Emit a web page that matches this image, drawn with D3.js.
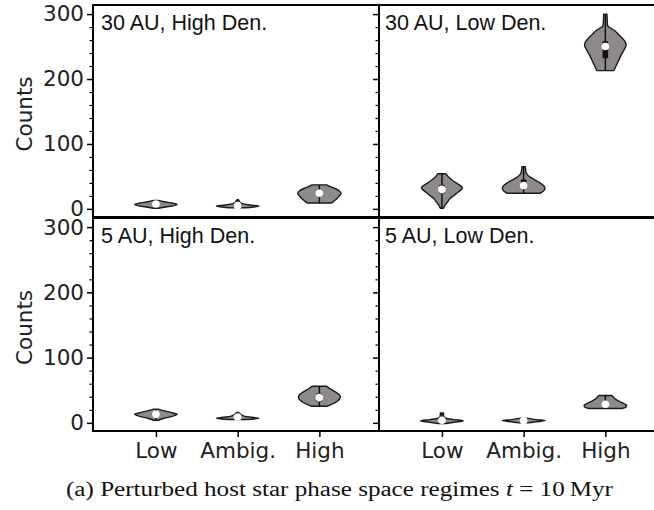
<!DOCTYPE html>
<html>
<head>
<meta charset="utf-8">
<script src="https://cdn.jsdelivr.net/npm/d3@7"></script>
<style>
  body { margin: 0; background: #fff; }
</style>
</head>
<body>
<div id="chart"></div>
<script>
var categories = ["Low", "Ambig.", "High"];
var panelTitles = ["30 AU, High Den.", "30 AU, Low Den.", "5 AU, High Den.", "5 AU, Low Den."];
var yTicks = [0, 100, 200, 300];
var yMinorTicks = [20, 40, 60, 80, 120, 140, 160, 180, 220, 240, 260, 280];

// violin outlines: [counts, half width in category units]
var profiles30High = [
  [[1, 0.03], [3, 0.12], [5, 0.22], [7, 0.26], [9, 0.2], [11, 0.1], [13, 0.03]],
  [[1.5, 0.05], [3, 0.2], [4.5, 0.26], [6, 0.15], [8, 0.06], [10, 0.03], [12, 0.02], [14, 0.01]],
  [[9, 0.15], [12, 0.18], [18, 0.23], [24, 0.265], [28, 0.24], [32, 0.18], [35, 0.12], [37, 0.09]]
];
var profiles30Low = [
  [[1, 0.02], [6, 0.04], [11, 0.07], [16, 0.1], [21, 0.15], [26, 0.2], [31, 0.245], [33, 0.25], [38, 0.2], [43, 0.14], [48, 0.09], [54, 0.05]],
  [[24, 0.2], [27, 0.24], [31, 0.26], [35, 0.25], [40, 0.2], [45, 0.13], [49, 0.08], [52, 0.05], [56, 0.03], [60, 0.025], [65, 0.02]],
  [[213, 0.105], [220, 0.13], [228, 0.16], [236, 0.19], [244, 0.225], [252, 0.255], [258, 0.24], [264, 0.2], [270, 0.15], [274, 0.12], [278, 0.07], [282, 0.03], [286, 0.025], [293, 0.022], [300, 0.02]]
];
var profiles5High = [
  [[4, 0.03], [7, 0.1], [10, 0.2], [13, 0.26], [16, 0.18], [19, 0.08], [21, 0.03]],
  [[5, 0.05], [6, 0.2], [7, 0.26], [8.5, 0.18], [10, 0.09], [12, 0.05], [14, 0.03], [16, 0.01]],
  [[25.5, 0.1], [29, 0.16], [33, 0.22], [38, 0.255], [42, 0.25], [47, 0.2], [51, 0.15], [54, 0.11], [56, 0.09]]
];
var profiles5Low = [
  [[-1, 0.05], [1, 0.15], [3, 0.26], [5, 0.15], [7, 0.05], [9, 0.025], [12, 0.02], [15, 0.02]],
  [[0, 0.05], [2, 0.18], [3.5, 0.26], [5, 0.15], [7.6, 0.02]],
  [[22, 0.2], [24, 0.25], [27, 0.26], [30, 0.22], [33, 0.17], [36, 0.13], [39, 0.1], [42, 0.08]]
];

// inner box: [q1, median, q3]
var boxes30High = [[5, 7.5, 9], [4, 5, 6.5], [19, 24, 29]];
var boxes30Low = [[24, 30, 37], [33, 36, 45], [232, 250, 258]];
var boxes5High = [[10, 13, 16], [7, 9, 11], [33, 38.7, 45]];
var boxes5Low = [[2, 4, 6], [2, 3.5, 5], [25, 28.5, 33]];

(function() {
  var width = 654, height = 510;
  var colX = [93, 379], panelW = 286;
  var rowY = [[5, 217], [218, 431]];

  var panels = [
    {title: panelTitles[0], profiles: profiles30High, boxes: boxes30High, col: 0, row: 0},
    {title: panelTitles[1], profiles: profiles30Low, boxes: boxes30Low, col: 1, row: 0},
    {title: panelTitles[2], profiles: profiles5High, boxes: boxes5High, col: 0, row: 1},
    {title: panelTitles[3], profiles: profiles5Low, boxes: boxes5Low, col: 1, row: 1}
  ];

  var svg = d3.select("#chart")
    .append("svg")
    .attr("width", width)
    .attr("height", height)
    .style("display", "block");

  svg.append("rect").attr("width", width).attr("height", height).attr("fill", "#fff");

  panels.forEach(function(p) {
    var x0 = colX[p.col];
    var xScale = d3.scaleLinear()
      .domain([-0.77, 2.73])
      .range([x0, x0 + panelW]);
    var yScale = d3.scaleLinear()
      .domain([-12.5, 314])
      .range([rowY[p.row][1], rowY[p.row][0]]);

    var g = svg.append("g");

    // violins
    var area = d3.area()
      .y(function(d) { return yScale(d[0]); })
      .curve(d3.curveCatmullRom);

    p.profiles.forEach(function(prof, i) {
      area.x0(function(d) { return xScale(i - d[1]); })
          .x1(function(d) { return xScale(i + d[1]); });
      g.append("path")
        .attr("d", area(prof))
        .attr("fill", "#8e8a8a")
        .attr("stroke", "#1a1a1a")
        .attr("stroke-width", 1.4)
        .attr("stroke-linejoin", "round");

      var ext = d3.extent(prof, function(d) { return d[0]; });
      var b = p.boxes[i];
      g.append("line")
        .attr("x1", xScale(i)).attr("x2", xScale(i))
        .attr("y1", yScale(ext[0])).attr("y2", yScale(ext[1]))
        .attr("stroke", "#111")
        .attr("stroke-width", 1.5);
      g.append("rect")
        .attr("x", xScale(i) - 2.8)
        .attr("width", 5.6)
        .attr("y", yScale(b[2]))
        .attr("height", yScale(b[0]) - yScale(b[2]))
        .attr("fill", "#111");
      g.append("circle")
        .attr("cx", xScale(i))
        .attr("cy", yScale(b[1]))
        .attr("r", 3.8)
        .attr("fill", "#fff");
    });

    // y ticks (labels only on the left column)
    var yAxis = d3.axisLeft(yScale)
      .tickValues(yTicks)
      .tickSize(6)
      .tickPadding(3)
      .tickFormat(p.col === 0 ? d3.format("d") : "");
    var ya = g.append("g")
      .attr("transform", "translate(" + x0 + ",0)")
      .call(yAxis)
      .attr("font-family", "DejaVu Sans")
      .attr("font-size", 21.5);
    ya.select(".domain").remove();
    ya.selectAll("line").attr("stroke", "#000").attr("stroke-width", 1.5);
    ya.selectAll("text").attr("fill", "#222");

    var ym = g.append("g")
      .attr("transform", "translate(" + x0 + ",0)")
      .call(d3.axisLeft(yScale).tickValues(yMinorTicks).tickSize(3.5).tickFormat(""));
    ym.select(".domain").remove();
    ym.selectAll("line").attr("stroke", "#000").attr("stroke-width", 1.2);

    // x ticks on the bottom row
    if (p.row === 1) {
      var xa = g.append("g")
        .attr("transform", "translate(0," + rowY[1][1] + ")")
        .call(d3.axisBottom(xScale)
          .tickValues([0, 1, 2])
          .tickSize(6)
          .tickPadding(5.5)
          .tickFormat(function(d) { return categories[d]; }))
        .attr("font-family", "DejaVu Sans")
        .attr("font-size", 21.5);
      xa.select(".domain").remove();
      xa.selectAll("line").attr("stroke", "#000").attr("stroke-width", 1.5);
      xa.selectAll("text").attr("fill", "#222");
    }

    // frame
    g.append("rect")
      .attr("x", x0)
      .attr("y", rowY[p.row][0])
      .attr("width", panelW)
      .attr("height", rowY[p.row][1] - rowY[p.row][0])
      .attr("fill", "none")
      .attr("stroke", "#000")
      .attr("stroke-width", 2);

    g.append("text")
      .attr("x", x0 + (p.col === 0 ? 8 : 6))
      .attr("y", rowY[p.row][0] + 25)
      .attr("font-family", "Liberation Sans, Arial, sans-serif")
      .attr("font-size", 21.5)
      .attr("fill", "#111")
      .text(p.title);

    if (p.col === 0) {
      svg.append("text")
        .attr("transform", "translate(32," + ((rowY[p.row][0] + rowY[p.row][1]) / 2 + 3) + ") rotate(-90)")
        .attr("text-anchor", "middle")
        .attr("font-family", "DejaVu Sans")
        .attr("font-size", 21.5)
        .attr("fill", "#222")
        .text("Counts");
    }
  });

  // caption
  var cap = svg.append("text")
    .attr("x", 66)
    .attr("y", 496)
    .attr("font-family", "Liberation Serif, serif")
    .attr("font-size", 20)
    .attr("fill", "#111")
    .attr("textLength", 547)
    .attr("lengthAdjust", "spacingAndGlyphs");
  cap.append("tspan").text("(a) Perturbed host star phase space regimes ");
  cap.append("tspan").attr("font-style", "italic").text("t");
  cap.append("tspan").text(" = 10\u2009Myr");
})();
</script>
</body>
</html>
